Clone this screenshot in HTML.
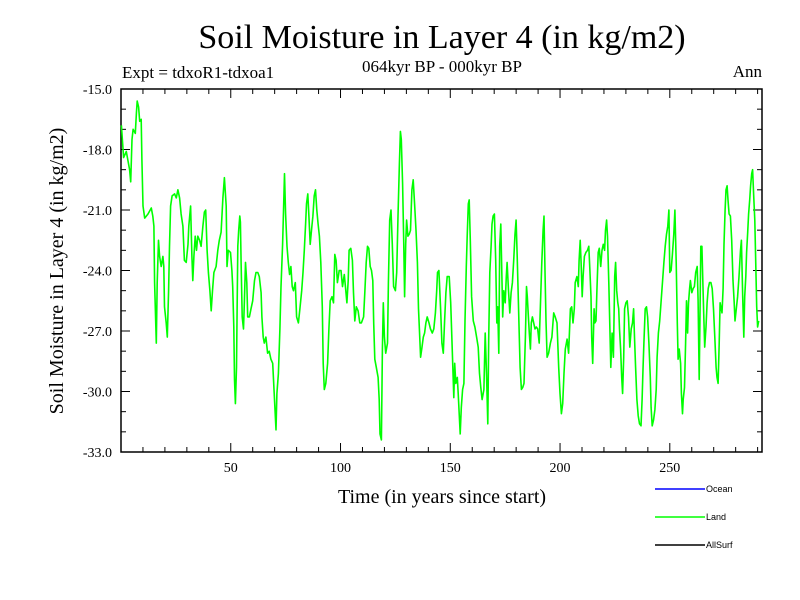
<!DOCTYPE html>
<html><head><meta charset="utf-8"><style>
html,body{margin:0;padding:0;background:#fff;}
svg{display:block;}
</style></head><body>
<svg id="chart" width="800" height="600" xmlns="http://www.w3.org/2000/svg" font-family="Liberation Serif, serif">
<rect x="0" y="0" width="800" height="600" fill="#fff"/>
<text x="442" y="48" text-anchor="middle" font-size="34">Soil Moisture in Layer 4 (in kg/m2)</text>
<text x="122" y="78" font-size="17">Expt = tdxoR1-tdxoa1</text>
<text x="442" y="72" text-anchor="middle" font-size="17">064kyr BP - 000kyr BP</text>
<text x="762" y="77" text-anchor="end" font-size="17">Ann</text>
<text transform="translate(63,271) rotate(-90)" text-anchor="middle" font-size="20">Soil Moisture in Layer 4 (in kg/m2)</text>
<text x="442" y="503" text-anchor="middle" font-size="20">Time (in years since start)</text>
<g id="axes"></g>
<g id="series"></g>
<g id="legend"></g>
</svg>
<script>
const years = [0.2,1.2,2.4,3.9,4.4,5.0,5.5,6.5,7.0,7.4,8.0,8.5,9.2,9.5,10.0,10.8,12.3,13.8,14.5,15.0,15.3,16.1,16.5,17.1,17.6,18.3,19.1,19.5,19.8,20.6,21.1,21.7,22.1,22.6,23.3,24.4,25.2,25.9,26.7,27.4,28.2,28.9,29.7,30.5,30.9,31.7,32.3,32.7,33.2,33.8,34.4,35.0,35.8,36.5,37.3,38.0,38.6,39.2,39.8,40.5,41.1,41.7,42.3,43.3,44.1,44.8,45.6,46.4,47.1,47.9,48.3,48.9,49.9,50.5,50.9,51.4,51.7,52.1,52.6,53.2,53.6,54.1,54.4,54.7,55.2,55.8,56.2,56.7,57.3,57.7,58.5,59.2,60.0,60.8,61.5,62.3,63.0,63.8,64.2,64.8,65.3,66.0,66.8,67.5,68.3,69.1,69.8,70.6,71.0,71.7,72.4,72.9,73.6,74.1,74.5,75.0,75.6,76.2,76.8,77.4,78.0,78.6,79.4,80.0,80.8,81.5,82.3,82.9,83.5,84.1,84.5,85.1,85.6,86.2,86.8,87.4,88.0,88.6,89.2,89.8,90.4,91.0,91.7,92.1,92.6,93.3,94.1,94.7,95.3,96.1,96.8,97.4,98.0,98.6,99.4,100.2,100.9,101.7,102.4,102.9,103.5,103.9,104.7,105.4,105.9,106.5,107.2,108.0,108.8,109.5,110.5,111.1,111.7,112.3,112.9,113.5,114.1,114.7,115.1,115.6,116.3,117.1,117.6,118.0,118.6,119.1,119.5,120.0,120.6,121.4,121.8,122.4,123.0,123.6,124.2,125.0,125.6,126.2,126.8,127.3,127.7,128.3,128.8,129.2,129.7,130.1,130.7,131.3,131.9,132.5,133.1,133.8,134.4,135.0,135.5,135.9,136.5,137.1,137.7,138.3,138.9,139.5,140.3,141.0,141.8,142.5,143.2,143.8,144.2,144.8,145.6,146.2,146.8,147.4,148.0,148.6,149.5,150.2,151.1,151.6,152.0,152.5,153.2,153.6,154.1,154.5,155.0,155.6,156.2,156.7,157.3,157.7,158.2,158.6,159.1,159.7,160.5,161.2,162.0,162.7,163.3,163.9,164.5,165.3,165.9,166.5,167.1,167.5,168.0,168.6,169.0,169.5,170.1,170.7,171.2,171.6,172.1,172.5,173.0,173.5,173.9,174.4,175.0,175.5,175.9,176.5,177.1,177.7,178.3,178.9,179.5,180.0,180.5,180.9,181.4,181.8,182.4,183.0,183.6,184.2,184.7,185.1,185.6,186.0,186.5,186.9,187.4,188.0,188.6,189.2,189.8,190.5,191.0,191.7,192.3,192.7,193.2,193.6,194.1,194.8,195.6,196.3,197.1,197.8,198.6,199.4,200.0,200.6,201.2,201.8,202.4,203.2,203.9,204.7,205.3,205.9,206.5,206.9,207.7,208.3,208.7,209.2,209.6,210.1,210.5,211.1,211.8,212.5,213.1,213.6,214.1,214.4,214.9,215.5,215.9,216.4,216.8,217.4,217.9,218.5,219.1,219.7,220.3,220.7,221.2,221.6,222.2,222.7,223.1,223.7,224.3,224.9,225.3,225.8,226.3,226.7,227.1,227.6,228.1,228.5,229.0,229.4,230.0,230.6,231.2,231.8,232.4,233.0,233.5,233.9,234.4,235.0,235.6,236.2,236.9,237.4,237.8,238.2,238.8,239.4,239.9,240.5,241.1,241.5,242.0,242.6,243.2,243.8,244.2,244.8,245.4,246.0,246.7,247.3,247.9,248.5,249.1,249.6,250.0,250.6,251.2,251.8,252.3,252.9,253.4,253.8,254.3,254.9,255.3,255.8,256.1,256.7,257.2,257.6,258.1,258.5,259.0,259.4,260.0,260.6,261.2,261.8,262.5,262.9,263.4,263.7,264.1,264.6,265.0,265.5,265.9,266.5,267.0,267.5,268.1,268.7,269.3,269.9,270.5,271.1,271.5,272.0,272.5,272.9,273.4,273.8,274.3,274.7,275.2,275.6,276.1,276.5,277.0,277.6,278.2,278.8,279.3,279.7,280.3,280.9,281.5,282.2,282.6,283.2,283.7,284.1,284.6,285.0,285.5,285.9,286.4,286.8,287.3,287.7,288.2,288.7,289.1,289.6,290.0,290.5,290.9];
const landValues = [-16.8,-18.4,-18.1,-19.0,-19.6,-17.5,-17.0,-17.2,-16.2,-15.6,-15.9,-16.6,-16.5,-18.5,-20.8,-21.4,-21.2,-20.9,-21.3,-21.8,-24.6,-27.6,-24.6,-22.5,-23.3,-23.8,-23.3,-23.8,-25.8,-26.6,-27.3,-25.0,-22.8,-20.8,-20.3,-20.2,-20.4,-20.0,-20.4,-21.2,-21.8,-23.5,-23.6,-22.7,-21.8,-20.8,-23.3,-24.5,-23.3,-22.3,-23.0,-22.3,-22.5,-22.8,-21.8,-21.1,-21.0,-23.0,-24.1,-25.0,-26.0,-25.0,-24.1,-23.8,-23.0,-22.5,-22.1,-20.4,-19.4,-20.8,-23.8,-23.0,-23.1,-24.0,-24.8,-26.8,-29.4,-30.6,-28.8,-22.8,-22.0,-21.3,-21.6,-23.6,-26.3,-26.9,-25.5,-23.6,-24.6,-26.3,-26.3,-25.9,-25.5,-24.5,-24.1,-24.1,-24.3,-25.1,-26.3,-27.3,-27.6,-27.3,-28.1,-28.0,-28.4,-28.6,-30.1,-31.9,-30.1,-29.1,-26.9,-24.8,-22.7,-20.7,-19.2,-21.2,-22.8,-23.6,-24.2,-23.8,-24.8,-25.0,-24.6,-26.3,-26.6,-25.9,-25.0,-24.1,-23.0,-21.7,-20.7,-20.2,-21.3,-22.7,-22.0,-21.3,-20.3,-20.0,-21.0,-21.7,-22.3,-23.6,-25.8,-28.6,-29.9,-29.6,-28.6,-26.9,-25.5,-25.3,-25.6,-23.2,-23.5,-24.6,-24.0,-24.0,-24.8,-24.2,-25.0,-25.6,-24.5,-23.0,-22.9,-23.5,-25.1,-26.5,-25.8,-26.0,-26.6,-26.6,-26.3,-25.0,-23.6,-22.8,-22.9,-23.8,-24.0,-24.5,-26.6,-28.4,-28.8,-29.3,-30.4,-32.1,-32.4,-27.9,-25.6,-27.3,-28.1,-27.6,-24.6,-21.5,-21.0,-22.7,-24.8,-25.0,-24.1,-21.3,-18.7,-17.1,-17.5,-19.7,-22.5,-25.3,-22.7,-21.5,-22.3,-22.2,-22.0,-20.0,-19.5,-20.8,-22.0,-23.6,-25.9,-26.8,-28.3,-27.8,-27.3,-27.1,-26.6,-26.3,-26.6,-26.9,-27.1,-26.9,-26.1,-25.0,-24.1,-24.0,-25.9,-27.6,-28.1,-26.5,-25.1,-24.3,-24.3,-25.6,-28.6,-30.3,-28.6,-29.6,-29.3,-30.1,-31.2,-32.1,-30.8,-29.9,-29.6,-26.5,-23.8,-22.3,-20.7,-20.5,-22.5,-25.3,-26.5,-26.8,-27.3,-27.8,-29.1,-29.8,-30.4,-29.9,-27.1,-29.1,-31.6,-27.4,-24.1,-22.8,-21.7,-21.3,-21.2,-23.5,-26.6,-25.8,-28.1,-22.8,-21.7,-24.3,-26.3,-25.0,-25.6,-24.3,-23.6,-25.0,-26.1,-25.1,-24.6,-23.5,-22.2,-21.5,-23.3,-25.0,-27.1,-28.8,-29.9,-29.8,-29.6,-27.3,-24.8,-25.3,-26.3,-27.1,-27.9,-26.6,-26.3,-26.6,-26.9,-26.8,-26.9,-27.6,-25.9,-23.6,-22.0,-21.3,-24.3,-26.5,-28.3,-28.1,-27.6,-27.3,-26.1,-26.3,-26.6,-28.8,-30.1,-31.1,-30.6,-29.1,-27.9,-27.4,-28.1,-25.9,-25.8,-26.6,-25.9,-24.6,-24.3,-24.8,-23.5,-22.5,-23.6,-25.3,-24.3,-23.3,-23.1,-23.0,-22.8,-24.0,-25.3,-27.3,-28.6,-25.9,-26.6,-26.5,-25.0,-23.1,-22.9,-23.8,-23.0,-22.7,-23.0,-22.0,-21.5,-22.3,-24.6,-26.9,-28.8,-27.1,-28.3,-24.3,-23.6,-25.0,-25.6,-25.9,-26.9,-27.9,-29.3,-30.1,-28.3,-25.9,-25.6,-25.5,-26.3,-27.8,-26.9,-26.6,-25.9,-27.3,-28.8,-30.4,-31.2,-31.6,-31.7,-30.4,-28.9,-27.6,-25.9,-25.8,-26.3,-27.6,-29.3,-30.8,-31.7,-31.4,-30.9,-29.9,-28.3,-27.1,-26.5,-25.6,-24.5,-23.6,-22.8,-22.2,-21.8,-21.0,-24.1,-24.0,-23.2,-22.2,-21.0,-23.6,-26.6,-28.4,-27.9,-28.6,-30.1,-31.1,-30.4,-29.8,-27.6,-25.5,-27.1,-25.6,-24.9,-24.5,-25.1,-24.9,-24.8,-24.1,-23.8,-25.5,-29.4,-26.6,-22.8,-22.8,-24.3,-26.3,-27.8,-26.8,-25.6,-24.9,-24.6,-24.6,-24.9,-25.9,-27.3,-28.8,-29.3,-29.6,-27.6,-25.6,-25.9,-26.1,-24.9,-22.7,-21.0,-20.0,-19.8,-20.5,-21.2,-21.3,-22.5,-24.5,-25.5,-26.5,-25.9,-25.3,-24.3,-23.0,-22.5,-25.3,-27.3,-25.3,-24.3,-23.1,-22.1,-21.2,-20.5,-19.8,-19.2,-19.0,-20.3,-21.5,-23.3,-25.8,-26.8,-26.5];
const yTickValues = [-15,-18,-21,-24,-27,-30,-33];
const yTickLabels = ["-15.0","-18.0","-21.0","-24.0","-27.0","-30.0","-33.0"];
const xTickValues = [50,100,150,200,250];
const xTickLabels = ["50","100","150","200","250"];
const legendNames = ["Ocean","Land","AllSurf"];
const legendColors = ["#0000ff","#00ff00","#000000"];

const NS = "http://www.w3.org/2000/svg";
const L = 121, R = 762, T = 89, B = 452;
const xMin = 0, xMax = 292, yMin = -33, yMax = -15;
function xs(v){ return L + (v - xMin) / (xMax - xMin) * (R - L); }
function ys(v){ return B - (v - yMin) / (yMax - yMin) * (B - T); }
function mk(tag, attrs, parent){ const e = document.createElementNS(NS, tag); for (const k in attrs) e.setAttribute(k, attrs[k]); parent.appendChild(e); return e; }

const axes = document.getElementById('axes');
const frame = mk('rect', {x:L, y:T, width:R-L, height:B-T, fill:'none', stroke:'#000', 'stroke-width':1.5}, axes);



for (let v = -33; v <= -15; v++) {
  const y = ys(v);
  const major = (v % 3 === 0);
  const len = major ? 9 : 5;
  const t1 = mk('line', {x1:L, y1:y, x2:L+len, y2:y, stroke:'#000', 'stroke-width':1}, axes);
  
  
  const t2 = mk('line', {x1:R, y1:y, x2:R-len, y2:y, stroke:'#000', 'stroke-width':1}, axes);
  
  
}
yTickValues.forEach((v, i) => {
  const t = mk('text', {x:112, y:ys(v)+5, 'text-anchor':'end', 'font-size':14}, axes);
  t.textContent = yTickLabels[i];
  
  
});
for (let v = 10; v < xMax; v += 10) {
  const x = xs(v);
  const major = (v % 50 === 0);
  const len = major ? 9 : 5;
  const t1 = mk('line', {x1:x, y1:B, x2:x, y2:B-len, stroke:'#000', 'stroke-width':1}, axes);
  
  
  const t2 = mk('line', {x1:x, y1:T, x2:x, y2:T+len, stroke:'#000', 'stroke-width':1}, axes);
  
  
}
xTickValues.forEach((v, i) => {
  const t = mk('text', {x:xs(v), y:B+20, 'text-anchor':'middle', 'font-size':14}, axes);
  t.textContent = xTickLabels[i];
  
  
});

const series = document.getElementById('series');
const pts = years.map((yr, i) => xs(yr).toFixed(1) + ',' + ys(landValues[i]).toFixed(1)).join(' ');
const line = mk('polyline', {points:pts, fill:'none', stroke:'#00ff00', 'stroke-width':1.6, 'stroke-linejoin':'round'}, series);



const legend = document.getElementById('legend');
legendNames.forEach((n, i) => {
  const y = 489 + i * 28;
  const l = mk('line', {x1:655, y1:y, x2:705, y2:y, stroke:legendColors[i], 'stroke-width':1.5}, legend);
  
  
  const t = mk('text', {x:706, y:y+3, 'font-size':9, 'font-family':'Liberation Sans, sans-serif'}, legend);
  t.textContent = n;
  
  
});
</script>
</body></html>
